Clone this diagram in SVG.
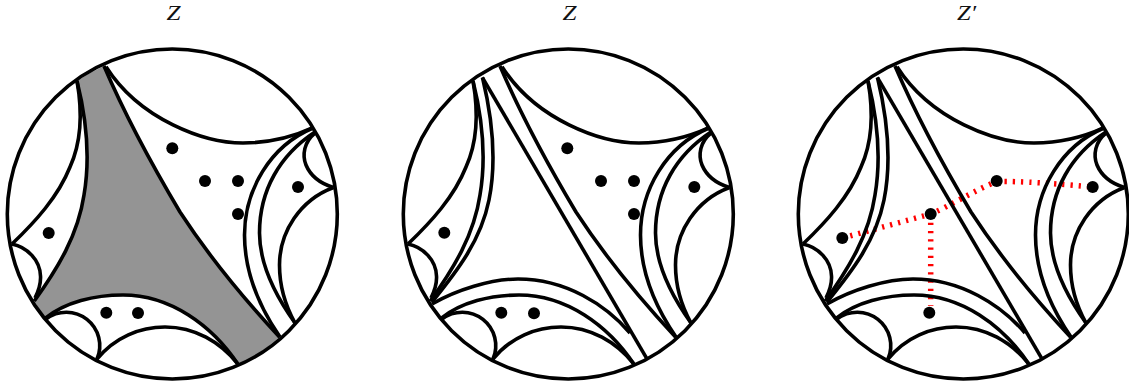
<svg xmlns="http://www.w3.org/2000/svg" width="1129" height="385" viewBox="0 0 1129 385">
<style>
.l{fill:none;stroke:#000;stroke-width:3.6}
.d{fill:#000;stroke:none}
.r{fill:none;stroke:#f00;stroke-width:5.5;stroke-dasharray:2.2 6.05}
.t{font-family:"Liberation Serif",serif;font-style:italic;font-size:20px;fill:#111}
</style>
<defs>
<g id="base" class="l">
<circle cx="172.3" cy="214" r="165"/>
<path d="M106 66.7C140 120 205 143 243 143C270 143 295 136 313 127.7"/>
<path d="M313 128C270 146 244.5 190 244.5 235C244.5 270 258 305 280 337"/>
<path d="M315 132C280 155 259.5 190 259.5 233C259.5 265 275 295 295 323"/>
<path d="M315 133C304 142 302 155 306 165C311 177 322 184 333.5 187.5"/>
<path d="M333.5 187.5C300 200 279.5 232 279.5 265C279.5 287 285 305 295 323"/>
<path d="M77 81C83 115 80 145 70 167C58 197 35 222 12 244"/>
<path d="M12 244C27 247 40 260 40.5 276C41 284 38 292 35 298"/>
<path d="M46 319A33.5 33.5 0 0 1 97 359"/>
<path d="M96.7 359.3C115 337 140 327 165 327C195 327 220 342 237.5 363.5"/>
<path d="M45 318.5C65 302 95 295 123 295C170 295 212 325 238.5 365"/>
<path d="M104 66C125 115 155 170 180 212C210 258 245 300 279.5 337"/>
<path d="M77 81C88 125 90 160 84 195C78 235 58 268 34.3 301"/>
</g>
<g id="extra" class="l">
<path d="M86.5 77.5C98 125 100 165 93 200C85 240 62 270 36 302"/>
<path d="M36 304C60 290 95 279 122 279C170 279 210 305 234 333"/>
<path d="M86.3 77.3L250.7 358.3"/>
</g>
</defs>
<rect width="1129" height="385" fill="#fff"/>
<g id="panel-1">
<path d="M77 81A165 165 0 0 1 104 66C125 115 155 170 180 212C210 258 245 300 279.5 337A165 165 0 0 1 238.5 365C212 325 170 295 123 295C95 295 65 302 45 318.5A165 165 0 0 1 34.3 301C58 268 78 235 84 195C90 160 88 125 77 81Z" fill="#949494"/>
<use href="#base"/>
<circle class="d" cx="172.3" cy="148.3" r="6"/>
<circle class="d" cx="205" cy="181" r="6"/>
<circle class="d" cx="238" cy="181" r="6"/>
<circle class="d" cx="238" cy="214" r="6"/>
<circle class="d" cx="298" cy="187" r="6"/>
<circle class="d" cx="48.7" cy="233" r="6"/>
<circle class="d" cx="106.3" cy="312.7" r="6"/>
<circle class="d" cx="138" cy="313" r="6"/>
<text class="t" x="166.5" y="20" textLength="14" lengthAdjust="spacingAndGlyphs">Z</text>
</g>
<g id="panel-2">
<use href="#base" x="396"/>
<use href="#extra" x="396"/>
<circle class="d" cx="567.3" cy="148.3" r="6"/>
<circle class="d" cx="601" cy="181" r="6"/>
<circle class="d" cx="634" cy="181" r="6"/>
<circle class="d" cx="634" cy="214" r="6"/>
<circle class="d" cx="694.3" cy="187" r="6"/>
<circle class="d" cx="444.3" cy="232.7" r="6"/>
<circle class="d" cx="501.3" cy="312.7" r="6"/>
<circle class="d" cx="534" cy="313.3" r="6"/>
<text class="t" x="562.5" y="20" textLength="14" lengthAdjust="spacingAndGlyphs">Z</text>
</g>
<g id="panel-3">
<g id="connectors">
<path class="r" d="M842.3 238L930.7 214C950 206 975 190 996.7 181.5C1005 181 1040 182 1092.7 187"/>
<path class="r" d="M930.7 222.7V306"/>
</g>
<use href="#base" x="791"/>
<use href="#extra" x="791"/>
<circle class="d" cx="842.3" cy="238" r="6"/>
<circle class="d" cx="930.7" cy="214" r="6"/>
<circle class="d" cx="996.7" cy="181" r="6"/>
<circle class="d" cx="1092.7" cy="187" r="6"/>
<circle class="d" cx="929.3" cy="312.7" r="6"/>
<text class="t" x="957" y="20" textLength="19" lengthAdjust="spacingAndGlyphs">Z′</text>
</g>
</svg>
